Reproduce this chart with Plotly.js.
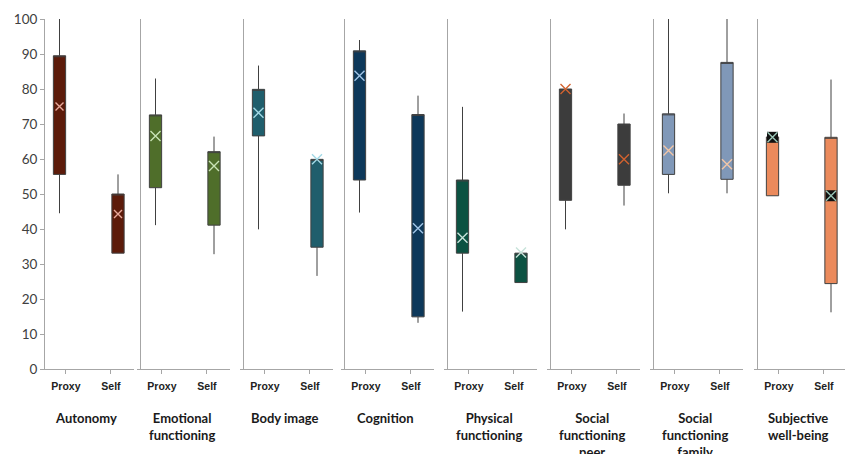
<!DOCTYPE html>
<html>
<head>
<meta charset="utf-8">
<script src="https://cdn.plot.ly/plotly-3.0.1.min.js"></script>
<style>
html,body{margin:0;padding:0;background:#fff;}
#chart{width:845px;height:454px;}
</style>
</head>
<body>
<div id="chart"></div>
<script>
// ---- data ----
const groups = ['Autonomy','Emotional<br>functioning','Body image','Cognition','Physical<br>functioning','Social<br>functioning<br>peer','Social<br>functioning<br>family','Subjective<br>well-being'];
const respondents = ['Proxy','Self'];

const proxyLow  = [44.5, 41.1, 39.9, 44.7, 16.4, 39.9, 50.2, 49.5];
const proxyQ1   = [55.6, 51.8, 66.6, 54.0, 33.1, 48.2, 55.6, 49.5];
const proxyQ3   = [89.5, 72.6, 79.9, 90.9, 54.0, 80.0, 72.9, 66.3];
const proxyHigh = [100,  83.0, 86.7, 94.0, 74.9, 80.0, 100,  66.3];
const proxyMean = [75.0, 66.6, 73.2, 83.8, 37.5, 80.0, 62.4, 66.2];

const selfLow  = [33.1, 32.8, 26.6, 13.2, 24.7, 46.7, 50.2, 16.2];
const selfQ1   = [33.1, 41.1, 34.8, 14.9, 24.7, 52.5, 54.2, 24.4];
const selfQ3   = [50.0, 62.1, 59.9, 72.7, 33.1, 70.0, 87.6, 66.2];
const selfHigh = [55.6, 66.4, 59.9, 78.1, 33.1, 73.0, 100,  82.7];
const selfMean = [44.3, 58.0, 59.9, 40.2, 33.3, 59.9, 58.5, 49.5];

const yTicks = [0,10,20,30,40,50,60,70,80,90,100];

// ---- styles ----
const fillColors = ['#5C1B0A','#4F6E2A','#1F5E6C','#0D385A','#0C5242','#3C3C3C','#8098B8','#EB8A5C'];
const meanColors = ['#E9A99B','#C9E3B6','#A3D9E6','#A2C6E8','#C8E3DA','#D2622F','#F3C6A6','#9CC7B8'];
const meanSizes  = [8, 10, 10, 10, 10, 10, 10, 10];
const panelStart = [44,140,243,344,447,550,653,757];
const W = 845, pxPerUnit = 58.5;
const axisGray = '#A6A6A6';

const traces = [];
const layout = {
  width: 845, height: 454,
  margin: {l:0, r:0, t:19, b:85},
  paper_bgcolor:'#fff', plot_bgcolor:'rgba(0,0,0,0)',
  showlegend:false,
  annotations: []
};

for (let i = 0; i < groups.length; i++) {
  const k = i + 1;
  const xa = k === 1 ? 'x' : 'x' + k;
  const ya = k === 1 ? 'y' : 'y' + k;
  const xKey = k === 1 ? 'xaxis' : 'xaxis' + k;
  const yKey = k === 1 ? 'yaxis' : 'yaxis' + k;
  const s = panelStart[i];
  const d0 = s - 3;
  const d1 = Math.min(W, s + 90);
  const r0 = -(s - d0 + 15.5) / pxPerUnit;
  const r1 = r0 + (d1 - d0) / pxPerUnit;

  traces.push({
    type:'box', xaxis:xa, yaxis:ya,
    x:[0,1],
    q1:[proxyQ1[i], selfQ1[i]],
    median:[proxyQ3[i], selfQ3[i]],
    q3:[proxyQ3[i], selfQ3[i]],
    lowerfence:[proxyLow[i], selfLow[i]],
    upperfence:[proxyHigh[i], selfHigh[i]],
    fillcolor: fillColors[i],
    line:{color:'#404040', width:1},
    whiskerwidth:0,
    width:0.21,
    boxpoints:false,
    hoverinfo:'skip'
  });

  if (i === 7) {
    traces.push({
      type:'scatter', mode:'markers', xaxis:xa, yaxis:ya,
      x:[0,1], y:[proxyMean[i], selfMean[i]],
      marker:{symbol:'square', size:11, color:'#111'},
      hoverinfo:'skip'
    });
  }
  traces.push({
    type:'scatter', mode:'markers', xaxis:xa, yaxis:ya,
    x:[0,1], y:[proxyMean[i], selfMean[i]],
    marker:{symbol:'x-thin-open', size:meanSizes[i], line:{color:meanColors[i], width:1.4}, color:meanColors[i]},
    hoverinfo:'skip'
  });

  layout[xKey] = {
    domain:[d0 / W, d1 / W],
    range:[r0, r1],
    anchor: ya,
    showline:true, linecolor:axisGray, linewidth:1,
    showgrid:false, zeroline:false,
    ticks:'outside', ticklen:4, tickcolor:axisGray,
    ticklabelstandoff:3,
    tickmode:'array', tickvals:[0.11, 0.88], ticktext:respondents,
    tickfont:{family:'Liberation Sans, Arial, sans-serif', size:10.5, color:'#222', weight:'bold'},
    fixedrange:true
  };
  layout[yKey] = {
    domain:[0,1],
    range:[0,100],
    anchor:'free', position: s / W,
    showline:true, linecolor:axisGray, linewidth:1,
    showgrid:false, zeroline:false,
    tickmode:'array', tickvals:yTicks,
    ticks: k === 1 ? 'outside' : '',
    ticklen:4, tickcolor:axisGray,
    showticklabels: k === 1,
    tickfont:{family:'Lato, Carlito, sans-serif', size:13.5, color:'#404040'},
    fixedrange:true
  };

  layout.annotations.push({
    xref: xa, yref:'paper',
    x: 0.45, y: -0.111,
    xanchor:'center', yanchor:'top',
    text: '<b>' + groups[i] + '</b>',
    showarrow:false, align:'center',
    font:{family:'Lato, Carlito, sans-serif', size:13, color:'#1a1a1a'}
  });
}

Plotly.newPlot('chart', traces, layout, {displayModeBar:false, staticPlot:true});
</script>
</body>
</html>
